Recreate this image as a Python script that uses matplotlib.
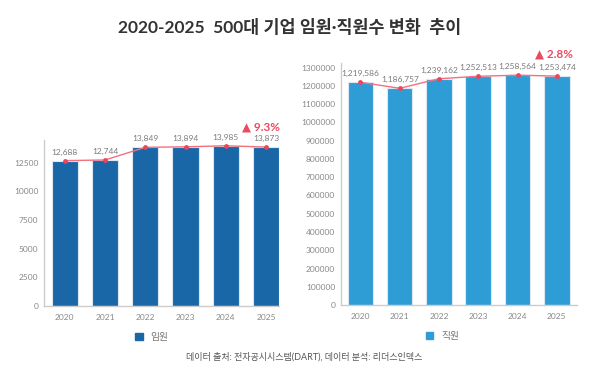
import matplotlib.pyplot as plt
from matplotlib.patches import Patch

years = ["2020", "2021", "2022", "2023", "2024", "2025"]
executives = [12688, 12744, 13849, 13894, 13985, 13873]
employees = [1219586, 1186757, 1239162, 1252513, 1258564, 1253474]
exec_ticks = [0, 2500, 5000, 7500, 10000, 12500]
emp_ticks = list(range(0, 1300001, 100000))

FONT = ["Lato", "Noto Sans CJK KR", "DejaVu Sans"]
plt.rcParams["font.family"] = FONT

LINE = "#f4707f"
DOT = "#e8465c"
GRAY = "#7a7a7a"

fig = plt.figure(figsize=(6, 3.73), dpi=100)
fig.patch.set_facecolor("white")


def draw(ax, values, color, ticks, ymax, xlim):
    x = list(range(len(values)))
    ax.bar(x, values, width=0.65, color=color, edgecolor="#dbe8f3", linewidth=0.8, zorder=2)
    ax.plot(x, values, color=LINE, lw=1.0, zorder=3)
    ax.scatter(x, values, s=6, color=DOT, zorder=4)
    for xi, v in zip(x, values):
        ax.annotate(f"{v:,}", (xi, v), xytext=(0, 3.5), textcoords="offset points",
                    ha="center", va="bottom", fontsize=6, color=GRAY)
    ax.set_ylim(0, ymax)
    ax.set_xlim(*xlim)
    ax.set_xticks(x)
    ax.set_xticklabels(years)
    ax.set_yticks(ticks)
    ax.set_yticklabels([str(t) for t in ticks])
    ax.tick_params(axis="both", labelsize=6, colors="#888888")
    for s in ("top", "right"):
        ax.spines[s].set_visible(False)
    for s in ("left", "bottom"):
        ax.spines[s].set_color("#cccccc")
        ax.spines[s].set_linewidth(1.0)
    ax.tick_params(axis="y", length=0, pad=4)
    ax.tick_params(axis="x", length=0, pad=6)


ax1 = fig.add_axes([0.073, 0.18, 0.392, 0.445])
draw(ax1, executives, "#1a67a8", exec_ticks, 14500, (-0.52, 5.32))
ax1.legend(handles=[Patch(color="#1a67a8", label="임원")], loc="center",
           bbox_to_anchor=(0.46, -0.19), frameon=False, fontsize=7,
           handlelength=0.8, handleheight=0.8, labelcolor="#777777")

ax2 = fig.add_axes([0.568, 0.182, 0.394, 0.649])
draw(ax2, employees, "#2e9dd6", emp_ticks, 1325000, (-0.5, 5.52))
ax2.legend(handles=[Patch(color="#2e9dd6", label="직원")], loc="center",
           bbox_to_anchor=(0.43, -0.128), frameon=False, fontsize=7,
           handlelength=0.8, handleheight=0.8, labelcolor="#777777")

fig.text(0.467, 0.66, "▲ 9.3%", ha="right", va="center", fontsize=8.5,
         color="#ec4a60", fontweight="bold", family=["Lato", "DejaVu Sans"])
fig.text(0.955, 0.855, "▲ 2.8%", ha="right", va="center", fontsize=8.5,
         color="#ec4a60", fontweight="bold", family=["Lato", "DejaVu Sans"])

fig.text(0.482, 0.925, "2020-2025  500대 기업 임원·직원수 변화  추이", ha="center", va="center",
         fontsize=12.5, fontweight="bold", color="#333333")
fig.text(0.507, 0.043, "데이터 출처: 전자공시시스템(DART), 데이터 분석: 리더스인덱스", ha="center",
         va="center", fontsize=6.5, color="#555555")

fig.savefig("out.png", dpi=100)
